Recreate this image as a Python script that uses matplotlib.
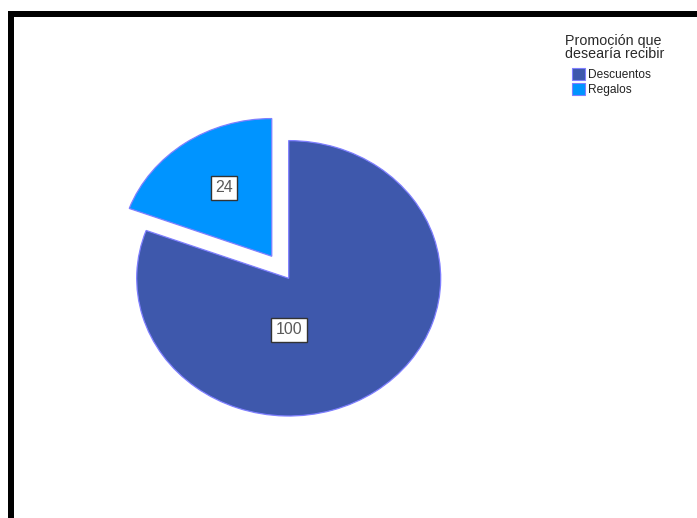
import matplotlib
matplotlib.use("Agg")
import matplotlib.pyplot as plt
from matplotlib.patches import Rectangle
from matplotlib.transforms import Affine2D

plt.rcParams['font.family'] = ['Liberation Sans', 'DejaVu Sans']

# Data
categories = ["Descuentos", "Regalos"]
counts = [100, 24]
colors = ["#3e58ac", "#0094ff"]
legend_title = "Promoción que\ndesearía recibir"

W, H = 697, 518
fig = plt.figure(figsize=(W / 100, H / 100), dpi=100)
fig.patch.set_facecolor("white")

# pixel coordinates (origin top-left) -> figure coordinates
px = Affine2D().scale(1 / W, -1 / H).translate(0, 1) + fig.transFigure

# Frame lines along the top and left
fig.add_artist(Rectangle((8, 11), W - 8, 6, transform=px, color="black", lw=0))
fig.add_artist(Rectangle((8, 11), 6, H - 11, transform=px, color="black", lw=0))

# Pie axes spanning the figure; limits chosen so the pie is an ellipse
ax = fig.add_axes([0, 0, 1, 1])
cx, cy, rx, ry = 288.7, 278.3, 152.0, 137.7

wedges, _ = ax.pie(counts, colors=colors, startangle=90, counterclock=False,
                   explode=[0, 0.195], radius=1.0,
                   wedgeprops=dict(edgecolor="#7f7fff", linewidth=0.9))
ax.set_aspect("auto")
ax.set_xlim(-cx / rx, (W - cx) / rx)
ax.set_ylim(-(H - cy) / ry, cy / ry)
ax.axis("off")

# Value labels
label_pos = [(0.003, -0.375), (-0.426, 0.658)]
for (x, y), v in zip(label_pos, counts):
    ax.text(x, y, str(v), ha="center", va="center", fontsize=11.5, color="#5a5a5a",
            bbox=dict(boxstyle="square,pad=0.28", facecolor="white",
                      edgecolor="#333333", linewidth=1.0))

# Legend
fig.text(565, 34, legend_title, transform=px, ha="left", va="top",
         fontsize=10.3, color="#2a2a2a", linespacing=0.92)
for i, (name, c) in enumerate(zip(categories, colors)):
    y0 = 68.3 + i * 15
    fig.add_artist(Rectangle((572, y0), 12.5, 12, transform=px, facecolor=c,
                             edgecolor="#7f7fff", linewidth=0.8))
    fig.text(588, y0 + 6.3, name, transform=px, ha="left", va="center",
             fontsize=8.6, color="#222222")

fig.savefig("out.png", dpi=100, facecolor="white")
